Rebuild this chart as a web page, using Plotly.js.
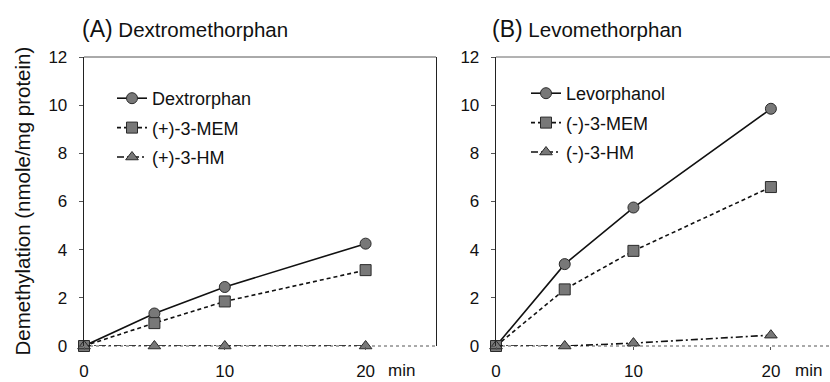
<!DOCTYPE html>
<html>
<head>
<meta charset="utf-8">
<script src="https://cdn.plot.ly/plotly-3.0.1.min.js"></script>
<style>html,body{margin:0;padding:0;background:#fff;}#chart{width:830px;height:382px;}</style>
</head>
<body>
<div id="chart"></div>
<script>
// ---- data ----
const timeMin = [0, 5, 10, 20];
const xTickVals = [0, 10, 20];
const xTickText = ['0', '10', '20'];
const yTickVals = [0, 2, 4, 6, 8, 10, 12];

const panelATitle = 'Dextromethorphan';
const panelBTitle = 'Levomethorphan';
const yTitle = 'Demethylation (nmole/mg protein)';

const namesA = ['Dextrorphan', '(+)-3-MEM', '(+)-3-HM'];
const dextrorphan = [0, 1.35, 2.45, 4.25];
const plusMEM = [0, 0.95, 1.85, 3.15];
const plusHM = [0, 0, 0, 0];

const namesB = ['Levorphanol', '(-)-3-MEM', '(-)-3-HM'];
const levorphanol = [0, 3.4, 5.75, 9.85];
const minusMEM = [0, 2.35, 3.95, 6.6];
const minusHM = [0, 0, 0.12, 0.45];

// ---- styles ----
const FONT = 'Liberation Sans, Arial, Helvetica, sans-serif';
const fill = '#787878', edge = '#2a2a2a';
const styles = [
  {symbol: 'circle', dash: 'solid'},
  {symbol: 'square', dash: '4px,3px'},
  {symbol: 'triangle-up', dash: '7px,3px,2px,3px'}
];

function mk(y, name, i, xa, ya, leg) {
  return {
    x: timeMin, y: y, name: name, type: 'scatter', mode: 'lines+markers',
    xaxis: xa, yaxis: ya, legend: leg, legendgroup: leg + i, cliponaxis: false,
    line: {color: '#111', width: 1.6, dash: styles[i].dash},
    marker: {symbol: styles[i].symbol, size: 11, color: fill, line: {color: edge, width: 1}}
  };
}

const traces = [
  mk(dextrorphan, namesA[0], 0, 'x', 'y', 'legend'),
  mk(plusMEM, namesA[1], 1, 'x', 'y', 'legend'),
  mk(plusHM, namesA[2], 2, 'x', 'y', 'legend'),
  mk(levorphanol, namesB[0], 0, 'x2', 'y2', 'legend2'),
  mk(minusMEM, namesB[1], 1, 'x2', 'y2', 'legend2'),
  mk(minusHM, namesB[2], 2, 'x2', 'y2', 'legend2')
];

const W = 830, H = 382;
const px = v => v / W, py = v => 1 - v / H;
const yDom = [py(346), py(57)];

const xCommon = {
  tickmode: 'array', tickvals: xTickVals, ticktext: xTickText,
  showgrid: false, zeroline: false, showline: false,
  ticks: 'outside', ticklen: 3, tickcolor: '#555',
  ticklabelstandoff: 7,
  tickfont: {family: FONT, size: 17, color: '#111'}, fixedrange: true
};
const yCommon = {
  range: [0, 12], tickmode: 'array', tickvals: yTickVals,
  showgrid: false, zeroline: false, showline: true, linecolor: '#222', linewidth: 1.3,
  ticks: 'outside', ticklen: 4, tickcolor: '#555', ticklabelstandoff: 8,
  tickfont: {family: FONT, size: 17, color: '#111'}, domain: yDom, fixedrange: true
};

const legCommon = {
  xanchor: 'left', yanchor: 'top', bgcolor: 'rgba(0,0,0,0)', borderwidth: 0,
  font: {family: FONT, size: 18, color: '#111'},
  traceorder: 'grouped', tracegroupgap: 3, itemclick: false
};

const layout = {
  width: W, height: H, margin: {l: 0, r: 0, t: 0, b: 0},
  paper_bgcolor: '#fff', plot_bgcolor: 'rgba(0,0,0,0)',
  showlegend: true,
  xaxis: Object.assign({}, xCommon, {domain: [px(84), px(436)], range: [0, 25], anchor: 'y'}),
  yaxis: Object.assign({}, yCommon, {anchor: 'x', mirror: true}),
  xaxis2: Object.assign({}, xCommon, {domain: [px(496), 1], range: [0, 24.3], anchor: 'y2'}),
  yaxis2: Object.assign({}, yCommon, {anchor: 'x2', mirror: false}),
  legend: Object.assign({}, legCommon, {x: px(112), y: py(80)}),
  legend2: Object.assign({}, legCommon, {x: px(526), y: py(75)}),
  shapes: [
    {type: 'line', xref: 'paper', yref: 'paper', x0: px(84), x1: px(436), y0: yDom[1], y1: yDom[1], line: {color: '#555', width: 1}},
    {type: 'line', xref: 'paper', yref: 'paper', x0: px(496), x1: 1, y0: yDom[1], y1: yDom[1], line: {color: '#666', width: 1}},
    {type: 'line', xref: 'paper', yref: 'paper', x0: px(84), x1: px(436), y0: yDom[0], y1: yDom[0], layer: 'below', line: {color: '#555', width: 1, dash: 'dot'}},
    {type: 'line', xref: 'paper', yref: 'paper', x0: px(496), x1: 1, y0: yDom[0], y1: yDom[0], layer: 'below', line: {color: '#555', width: 1, dash: 'dot'}}
  ],
  annotations: [
    {xref: 'paper', yref: 'paper', x: px(80), y: py(29), xanchor: 'left', yanchor: 'middle', showarrow: false,
     text: '<span style="font-size:23px">(A)</span> ' + panelATitle, font: {family: FONT, size: 20.5, color: '#111'}},
    {xref: 'paper', yref: 'paper', x: px(490), y: py(29), xanchor: 'left', yanchor: 'middle', showarrow: false,
     text: '<span style="font-size:23px">(B)</span> ' + panelBTitle, font: {family: FONT, size: 20.5, color: '#111'}},
    {xref: 'paper', yref: 'paper', x: px(22), y: (yDom[0] + yDom[1]) / 2, xanchor: 'center', yanchor: 'middle', showarrow: false,
     textangle: -90, text: yTitle, font: {family: FONT, size: 20.5, color: '#111'}},
    {xref: 'x', yref: 'paper', x: 20, y: py(370), xanchor: 'left', yanchor: 'middle', xshift: 20, showarrow: false,
     text: 'min', font: {family: FONT, size: 17, color: '#111'}},
    {xref: 'x2', yref: 'paper', x: 20, y: py(370), xanchor: 'left', yanchor: 'middle', xshift: 22, showarrow: false,
     text: 'min', font: {family: FONT, size: 17, color: '#111'}}
  ]
};

Plotly.newPlot('chart', traces, layout, {staticPlot: true, displayModeBar: false});
</script>
</body>
</html>
